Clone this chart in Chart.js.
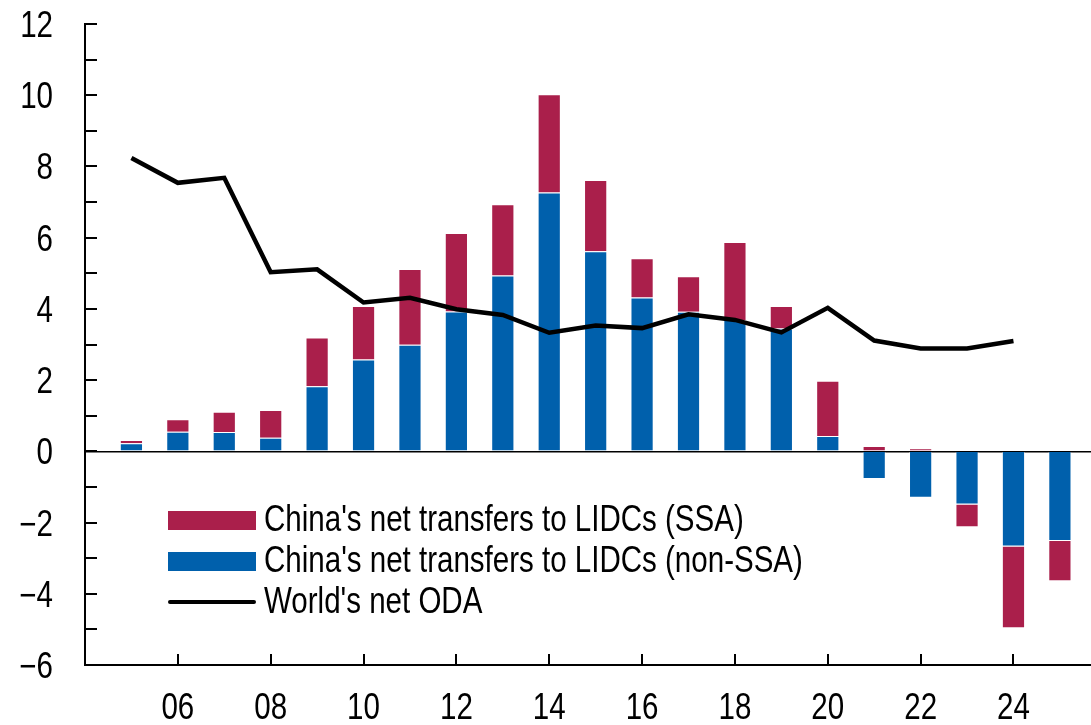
<!DOCTYPE html>
<html>
<head>
<meta charset="utf-8">
<script src="https://cdn.jsdelivr.net/npm/chart.js@4"></script>
<style>
  body { margin: 0; background: #fff; }
  #wrap { position: relative; width: 1091px; height: 725px; }
  .sw { position: absolute; left: 168px; width: 88px; }
  .tx { position: absolute; left: 264px; font-family: 'Liberation Sans', Arial, sans-serif; font-size: 36px;
        line-height: 36px; white-space: nowrap; color: #000; transform: scaleX(0.82); transform-origin: 0 0; }
</style>
</head>
<body>
<div id="wrap">
  <canvas id="chart" width="1091" height="725"></canvas>
  <div id="legend"></div>
</div>
<script>
// ─── DATOS ───────────────────────────────────────────────
const years = [2005, 2006, 2007, 2008, 2009, 2010, 2011, 2012, 2013, 2014, 2015,
               2016, 2017, 2018, 2019, 2020, 2021, 2022, 2023, 2024, 2025];
// China's net transfers to LIDCs (non-SSA)
const nonSSA = [0.23, 0.55, 0.54, 0.38, 1.83, 2.58, 2.99, 3.93, 4.94, 7.27, 5.62,
                4.32, 3.92, 3.69, 3.45, 0.43, -0.78, -1.30, -1.49, -2.67, -2.52];
// China's net transfers to LIDCs (SSA)
const ssa = [0.09, 0.35, 0.57, 0.78, 1.37, 1.50, 2.13, 2.20, 2.00, 2.76, 2.00,
             1.10, 1.00, 2.19, 0.63, 1.55, 0.15, 0.09, -0.64, -2.30, -1.13];
// World's net ODA
const oda = [8.24, 7.54, 7.68, 5.03, 5.11, 4.18, 4.31, 3.99, 3.83, 3.33, 3.53,
             3.46, 3.85, 3.69, 3.34, 4.03, 3.11, 2.89, 2.89, 3.10, null];
const xTicks = [2006, 2008, 2010, 2012, 2014, 2016, 2018, 2020, 2022, 2024];
const yTicks = [-6, -5, -4, -3, -2, -1, 0, 1, 2, 3, 4, 5, 6, 7, 8, 9, 10, 11, 12];

const RED = '#AA1F4B';
const BLUE = '#0060AC';
const FONT = "36px 'Liberation Sans', Arial, sans-serif";
const NARROW = 0.82; // imita Arial Narrow

const pts = arr => years.map((y, i) => ({ x: y, y: arr[i] }));
const fmtY = v => v < 0 ? '\u2212' + Math.abs(v) : String(v);
const fmtX = v => String(v % 100).padStart(2, '0');

// ticks hacia adentro + etiquetas estrechas
const axisDeco = {
  id: 'axisDeco',
  afterDraw(chart) {
    const { ctx, scales: { x, y } } = chart;
    ctx.save();
    ctx.strokeStyle = '#000';
    ctx.lineWidth = 2;
    ctx.beginPath();
    yTicks.forEach(v => {
      const py = Math.round(y.getPixelForValue(v));
      ctx.moveTo(x.left, py);
      ctx.lineTo(x.left + 12, py);
    });
    xTicks.forEach(v => {
      const px = Math.round(x.getPixelForValue(v));
      ctx.moveTo(px, y.bottom);
      ctx.lineTo(px, y.bottom - 11);
    });
    ctx.stroke();

    ctx.fillStyle = '#000';
    ctx.font = FONT;
    ctx.textBaseline = 'alphabetic';
    ctx.textAlign = 'right';
    yTicks.filter(v => v % 2 === 0).forEach(v => {
      ctx.save();
      ctx.translate(53, y.getPixelForValue(v) + 13);
      ctx.scale(NARROW, 1);
      ctx.fillText(fmtY(v), 0, 0);
      ctx.restore();
    });
    ctx.textAlign = 'center';
    xTicks.forEach(v => {
      ctx.save();
      ctx.translate(x.getPixelForValue(v), y.bottom + 54);
      ctx.scale(NARROW, 1);
      ctx.fillText(fmtX(v), 0, 0);
      ctx.restore();
    });
    ctx.restore();
  }
};

const chart = new Chart(document.getElementById('chart'), {
  type: 'bar',
  data: {
    datasets: [
      { label: "China's net transfers to LIDCs (non-SSA)", data: pts(nonSSA), backgroundColor: BLUE,
        borderColor: 'rgba(255,255,255,0.4)', borderWidth: 1, stack: 'china', order: 2 },
      { label: "China's net transfers to LIDCs (SSA)", data: pts(ssa), backgroundColor: RED,
        borderColor: 'rgba(255,255,255,0.4)', borderWidth: 1, stack: 'china', order: 2 },
      { type: 'line', label: "World's net ODA", data: pts(oda), borderColor: '#000', backgroundColor: '#000',
        borderWidth: 4.5, pointRadius: 0, tension: 0, stack: 'oda', order: 1 }
    ]
  },
  options: {
    responsive: false,
    animation: false,
    barPercentage: 0.5,
    categoryPercentage: 1,
    layout: { padding: { top: 24, right: 0, left: 0, bottom: 0 } },
    plugins: { legend: { display: false }, tooltip: { enabled: false } },
    scales: {
      x: {
        type: 'linear',
        stacked: true,
        offset: false,
        min: 2004,
        max: 2025.67,
        afterBuildTicks: s => { s.ticks = xTicks.map(v => ({ value: v })); },
        afterFit: s => { s.height = 60; s.paddingLeft = 0; s.paddingRight = 0; },
        ticks: { display: false },
        grid: { display: false, drawTicks: false, offset: false },
        border: { display: true, color: '#000', width: 2 }
      },
      y: {
        stacked: true,
        min: -6,
        max: 12,
        afterBuildTicks: s => { s.ticks = yTicks.map(v => ({ value: v })); },
        afterFit: s => { s.width = 85; s.paddingTop = 0; s.paddingBottom = 0; },
        ticks: { display: false },
        grid: {
          drawTicks: false,
          color: c => c.tick && c.tick.value === 0 ? '#000' : 'transparent',
          lineWidth: 1.5
        },
        border: { display: true, color: '#000', width: 2 }
      }
    }
  },
  plugins: [axisDeco]
});

// leyenda dentro del área del gráfico (baselines 532 / 573 / 614)
const legendRows = [
  { ds: chart.data.datasets[1], kind: 'box', base: 532 },
  { ds: chart.data.datasets[0], kind: 'box', base: 573 },
  { ds: chart.data.datasets[2], kind: 'line', base: 614 }
];
document.getElementById('legend').innerHTML = legendRows.map(r => {
  const sw = r.kind === 'box'
    ? `top:${r.base - 21}px;height:19px;background:${r.ds.backgroundColor}`
    : `top:${r.base - 14}px;height:4px;border-radius:2px;background:#000`;
  return `<div class="sw" style="${sw}"></div><div class="tx" style="top:${r.base - 31}px">${r.ds.label}</div>`;
}).join('');
</script>
</body>
</html>
